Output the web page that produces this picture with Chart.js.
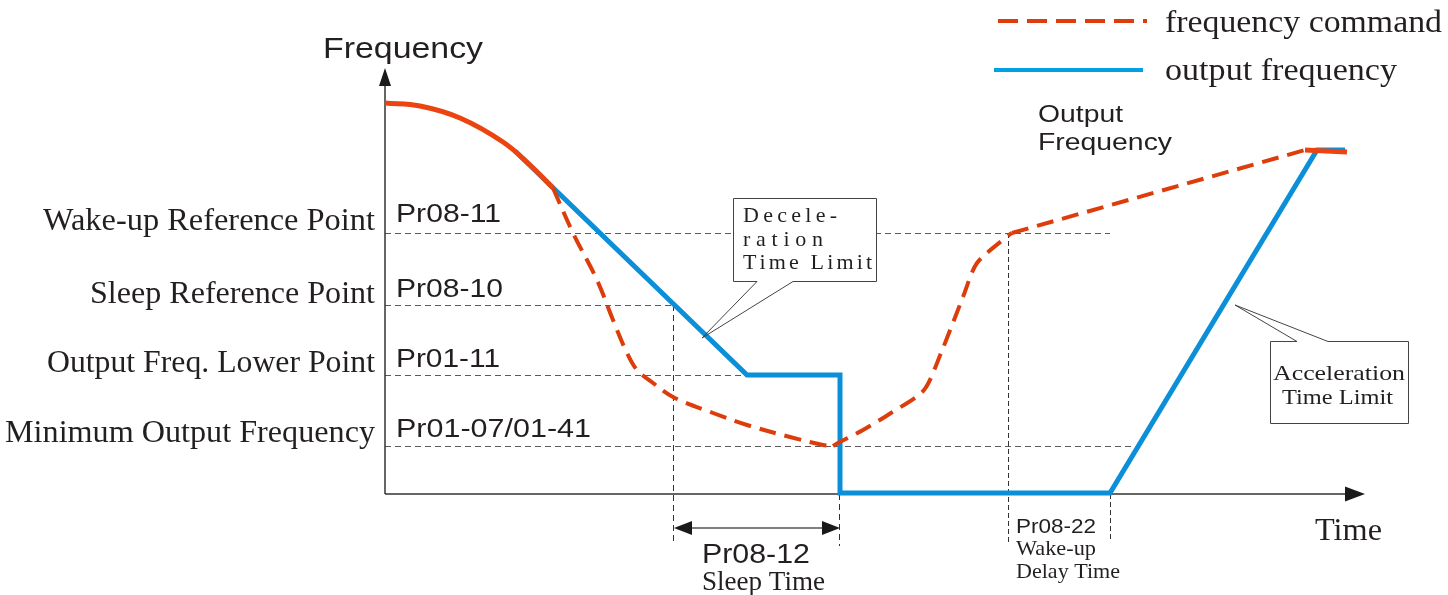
<!DOCTYPE html>
<html>
<head>
<meta charset="utf-8">
<script src="https://cdn.jsdelivr.net/npm/chart.js@4/dist/chart.umd.min.js"></script>
<style>
  html, body { margin: 0; padding: 0; background: #fff; }
  #wrap { width: 1448px; height: 595px; position: relative; }
</style>
</head>
<body>
<div id="wrap"><canvas id="chart"></canvas></div>
<script>
// time / frequency in drawing units (x: 0..980, y: 0..424)
const levelNames = ['Wake-up Reference Point', 'Sleep Reference Point', 'Output Freq. Lower Point', 'Minimum Output Frequency'];
const levelCodes = ['Pr08-11', 'Pr08-10', 'Pr01-11', 'Pr01-07/01-41'];
const levelValues = [261, 189, 119, 48];
const levelLineEnds = [725, 288, 455, 747];

// time marks: sleep start, sleep end, wake-up, wake-up delay end
const timeMarks = [288, 455, 623, 725];

// frequency command, solid start and end parts
const cmdStartX = [0, 35, 75, 118, 145, 168];
const cmdStartY = [391, 388, 376, 352, 329, 306];
const cmdEndX = [920, 962];
const cmdEndY = [344, 342];
// frequency command, dashed parts
const cmdDownX = [168, 188, 212, 228, 242, 252, 268, 288, 328, 362, 405, 438, 448];
const cmdDownY = [306, 261, 214, 174, 141, 124, 111, 97, 81, 69, 57, 49, 48];
const cmdUpX = [448, 453, 478, 506, 539, 556, 578, 592, 624, 627];
const cmdUpY = [48, 51, 64, 81, 104, 141, 197, 231, 259, 261];
const cmdRiseX = [627, 920];
const cmdRiseY = [261, 344];

// output frequency
const outX = [130, 362, 455, 455, 725, 932, 960];
const outY = [343, 119, 119, 1, 1, 344, 344];

const RED = '#dc3d0b';
const RED_SOLID = '#ec4410';
const BLUE = '#0b8fd9';
const INK = '#231f20';
const SERIF = '"Liberation Serif", "DejaVu Serif", serif';
const SANS = '"Liberation Sans", Arial, sans-serif';

const pts = (xs, ys) => xs.map((x, i) => ({ x: x, y: ys[i] }));

function fitText(ctx, txt, x, base, font, width, align) {
    ctx.font = font;
    const w = ctx.measureText(txt).width;
    const left = align === 'right' ? x - width : x;
    ctx.save();
    ctx.translate(left, base);
    ctx.scale(width / w, 1);
    ctx.textAlign = 'left';
    ctx.fillText(txt, 0, 0);
    ctx.restore();
}

function spacedText(ctx, txt, left, right, base, font) {
    ctx.font = font;
    const chars = txt.split('');
    const total = chars.reduce((s, c) => s + ctx.measureText(c).width, 0);
    const gap = (right - left - total) / (chars.length - 1);
    let x = left;
    ctx.textAlign = 'left';
    chars.forEach(c => {
        ctx.fillText(c, x, base);
        x += ctx.measureText(c).width + gap;
    });
}

function dashLine(ctx, x1, y1, x2, y2) {
    ctx.beginPath();
    ctx.moveTo(x1, y1);
    ctx.lineTo(x2, y2);
    ctx.stroke();
}

function arrowHead(ctx, tx, ty, dir, len, half) {
    ctx.beginPath();
    if (dir === 'up') {
        ctx.moveTo(tx, ty); ctx.lineTo(tx - half, ty + len); ctx.lineTo(tx + half, ty + len);
    } else if (dir === 'right') {
        ctx.moveTo(tx, ty); ctx.lineTo(tx - len, ty - half); ctx.lineTo(tx - len, ty + half);
    } else {
        ctx.moveTo(tx, ty); ctx.lineTo(tx + len, ty - half); ctx.lineTo(tx + len, ty + half);
    }
    ctx.closePath();
    ctx.fill();
}

const diagram = {
    id: 'diagram',
    beforeDatasetsDraw(chart) {
        const ctx = chart.ctx;
        const xs = chart.scales.x, ys = chart.scales.y;
        const X = v => xs.getPixelForValue(v);
        const Y = v => ys.getPixelForValue(v);
        ctx.save();
        // helper lines
        ctx.strokeStyle = '#5a5a5a';
        ctx.lineWidth = 1;
        ctx.setLineDash([6, 4]);
        levelValues.forEach((v, i) => dashLine(ctx, X(0), Y(v) + 0.5, X(levelLineEnds[i]), Y(v) + 0.5));
        ctx.strokeStyle = '#333';
        dashLine(ctx, X(timeMarks[0]) + 0.5, Y(levelValues[1]), X(timeMarks[0]) + 0.5, Y(0) + 50);
        dashLine(ctx, X(timeMarks[1]) - 0.5, Y(0), X(timeMarks[1]) - 0.5, Y(0) + 52);
        ctx.setLineDash([5, 3]);
        dashLine(ctx, X(timeMarks[2]) + 0.5, Y(levelValues[0]), X(timeMarks[2]) + 0.5, Y(0) + 50);
        dashLine(ctx, X(timeMarks[3]) + 0.5, Y(0), X(timeMarks[3]) + 0.5, Y(0) + 46);
        ctx.setLineDash([]);

        // axes
        ctx.strokeStyle = '#333';
        ctx.fillStyle = '#1a1a1a';
        ctx.lineWidth = 1.5;
        dashLine(ctx, X(0), Y(0), X(0), Y(424) + 10);
        dashLine(ctx, X(0), Y(0), X(980) - 10, Y(0));
        arrowHead(ctx, X(0), Y(424) - 2, 'up', 18, 6);
        arrowHead(ctx, X(980), Y(0), 'right', 20, 7.5);

        // sleep time double arrow
        const ay = Y(0) + 34;
        ctx.strokeStyle = '#555';
        ctx.lineWidth = 1.5;
        dashLine(ctx, X(timeMarks[0]) + 10, ay, X(timeMarks[1]) - 10, ay);
        ctx.fillStyle = '#1a1a1a';
        arrowHead(ctx, X(timeMarks[0]) + 1, ay, 'left', 18, 7);
        arrowHead(ctx, X(timeMarks[1]), ay, 'right', 18, 7);
        ctx.restore();
    },
    afterDatasetsDraw(chart) {
        const ctx = chart.ctx;
        ctx.save();
        ctx.fillStyle = INK;
        ctx.textBaseline = 'alphabetic';

        // axis titles
        fitText(ctx, 'Frequency', 323, 58, '29px ' + SANS, 160);
        fitText(ctx, 'Time', 1315, 540, '31px ' + SERIF, 67);

        // level names and codes
        const nameBase = [230, 303, 372, 442];
        const nameLeft = [43, 90, 47, 5];
        const codeBase = [222, 297, 367, 437];
        const codeRight = [501, 503, 500, 591];
        levelNames.forEach((n, i) => {
            fitText(ctx, n, 375, nameBase[i], '31px ' + SERIF, 375 - nameLeft[i], 'right');
            fitText(ctx, levelCodes[i], 396, codeBase[i], '26px ' + SANS, codeRight[i] - 396);
        });

        // time labels
        fitText(ctx, 'Pr08-12', 702, 563, '28px ' + SANS, 108);
        fitText(ctx, 'Sleep Time', 702, 590, '27px ' + SERIF, 123);
        fitText(ctx, 'Pr08-22', 1016, 533, '20px ' + SANS, 80);
        fitText(ctx, 'Wake-up', 1016, 555, '21px ' + SERIF, 80);
        fitText(ctx, 'Delay Time', 1016, 578, '21px ' + SERIF, 104);

        fitText(ctx, 'Output', 1038, 122, '24px ' + SANS, 85);
        fitText(ctx, 'Frequency', 1038, 150, '24px ' + SANS, 134);

        // deceleration callout
        ctx.strokeStyle = '#444';
        ctx.lineWidth = 1;
        ctx.fillStyle = '#fff';
        ctx.fillRect(733, 198, 143, 83);
        ctx.beginPath();
        ctx.moveTo(757, 281.5); ctx.lineTo(733.5, 281.5); ctx.lineTo(733.5, 198.5);
        ctx.lineTo(876.5, 198.5); ctx.lineTo(876.5, 281.5); ctx.lineTo(793, 281.5);
        ctx.moveTo(757, 281.5); ctx.lineTo(702, 338); ctx.lineTo(793, 281.5);
        ctx.stroke();
        ctx.fillStyle = INK;
        spacedText(ctx, 'Decele-', 743, 837, 222, '22px ' + SERIF);
        spacedText(ctx, 'ration', 743, 823, 246, '22px ' + SERIF);
        spacedText(ctx, 'Time Limit', 743, 872, 269, '22px ' + SERIF);

        // acceleration callout
        ctx.fillStyle = '#fff';
        ctx.fillRect(1270, 341, 138, 82);
        ctx.beginPath();
        ctx.moveTo(1297, 341.5); ctx.lineTo(1270.5, 341.5); ctx.lineTo(1270.5, 423.5);
        ctx.lineTo(1408.5, 423.5); ctx.lineTo(1408.5, 341.5); ctx.lineTo(1328, 341.5);
        ctx.moveTo(1297, 341.5); ctx.lineTo(1235, 305); ctx.lineTo(1328, 341.5);
        ctx.stroke();
        ctx.fillStyle = INK;
        fitText(ctx, 'Acceleration', 1273, 380, '22px ' + SERIF, 132);
        fitText(ctx, 'Time Limit', 1282, 404, '22px ' + SERIF, 111);

        // legend
        ctx.lineWidth = 4;
        ctx.strokeStyle = RED;
        ctx.setLineDash([20, 9]);
        dashLine(ctx, 998, 21, 1147, 21);
        ctx.setLineDash([]);
        ctx.strokeStyle = '#00a0e2';
        dashLine(ctx, 994, 70, 1143, 70);
        ctx.fillStyle = INK;
        fitText(ctx, 'frequency command', 1165, 32, '32px ' + SERIF, 277);
        fitText(ctx, 'output frequency', 1165, 80, '32px ' + SERIF, 232);
        ctx.restore();
    }
};

const base = { pointRadius: 0, fill: false, clip: false, borderCapStyle: 'butt', borderJoinStyle: 'miter' };

new Chart(document.getElementById('chart'), {
    type: 'line',
    data: {
        datasets: [
            Object.assign({ label: 'output frequency', data: pts(outX, outY), borderColor: BLUE, borderWidth: 5, tension: 0, order: 3 }, base),
            Object.assign({ label: 'frequency command', data: pts(cmdDownX, cmdDownY), borderColor: RED, borderWidth: 4, borderDash: [17, 9], tension: 0.35, order: 2 }, base),
            Object.assign({ label: 'frequency command up', data: pts(cmdUpX, cmdUpY), borderColor: RED, borderWidth: 4, borderDash: [17, 9], tension: 0.25, order: 2 }, base),
            Object.assign({ label: 'frequency command rise', data: pts(cmdRiseX, cmdRiseY), borderColor: RED, borderWidth: 4, borderDash: [17, 9], tension: 0, order: 2 }, base),
            Object.assign({ label: 'command start', data: pts(cmdStartX, cmdStartY), borderColor: RED_SOLID, borderWidth: 5, tension: 0.4, order: 1 }, base),
            Object.assign({ label: 'command end', data: pts(cmdEndX, cmdEndY), borderColor: RED_SOLID, borderWidth: 5, tension: 0, order: 1 }, base)
        ]
    },
    options: {
        responsive: true,
        maintainAspectRatio: false,
        animation: false,
        events: [],
        layout: { padding: { left: 385, right: 83, top: 70, bottom: 101 } },
        scales: {
            x: { type: 'linear', min: 0, max: 980, display: false },
            y: { type: 'linear', min: 0, max: 424, display: false }
        },
        plugins: {
            legend: { display: false },
            tooltip: { enabled: false }
        }
    },
    plugins: [diagram]
});
</script>
</body>
</html>
